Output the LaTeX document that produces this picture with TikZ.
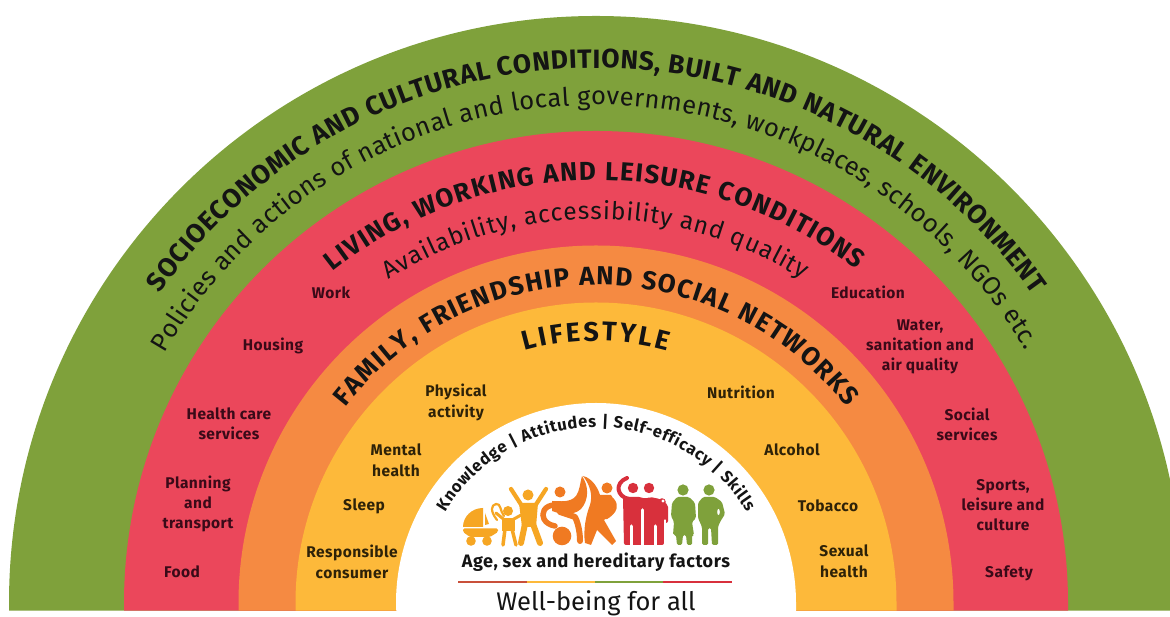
\documentclass[tikz,border=0pt]{standalone}
\usepackage{fontspec}
\setmainfont{Fira Sans}
\usetikzlibrary{decorations.text}
\definecolor{cgreen}{HTML}{7FA13B}
\definecolor{cred}{HTML}{EB475B}
\definecolor{corange}{HTML}{F58A42}
\definecolor{cyellow}{HTML}{FDB93A}
\definecolor{ink}{HTML}{141414}
\definecolor{inkred}{HTML}{3A0A18}
\definecolor{inkyel}{HTML}{2E2208}
\definecolor{ipy}{HTML}{F6A623}
\definecolor{ipo}{HTML}{F07A22}
\definecolor{ipr}{HTML}{D8303C}
\definecolor{ipg}{HTML}{7FA13B}
\definecolor{base1}{HTML}{C9503A}
\newcommand{\band}[2]{\fill[#1] (596-#2,617-610.7) -- (596-#2,14) arc (180:0:#2) -- (596+#2,617-610.7) -- cycle;}
\newcommand{\arctxt}[5]{\path[decorate,decoration={text along path,text align={fit to path},text={|#4|#5}}] (596,14) ++(#2:#1) arc (#2:#3:#1);}
\tikzset{
  redlab/.style={font=\fontsize{15.5}{20}\selectfont\bfseries\addfontfeature{LetterSpace=3},text=inkred,align=center,inner sep=0pt},
  yellab/.style={font=\fontsize{15.5}{21}\selectfont\bfseries\addfontfeature{LetterSpace=3},text=inkyel,align=center,inner sep=0pt},
  limb/.style={line cap=round,line join=round,line width=#1},
  limb/.default=3pt
}
\begin{document}
\begin{tikzpicture}[x=1pt,y=1pt]
\useasboundingbox (0,0) rectangle (1170,617);
\fill[white] (0,0) rectangle (1170,617);
\begin{scope}
\clip (0,0) rectangle (1170,617);
\band{cgreen}{587}
\band{cred}{472}
\band{corange}{357.5}
\band{cyellow}{300.5}
\band{white}{200}
\fill[white] (0,0) rectangle (1170,6.2);
\fill[white] (396.5,5.5) rectangle (795.5,8);
\end{scope}
\arctxt{535}{144.6}{35.2}{\fontsize{26.5}{28}\selectfont\bfseries\color{ink}}{SOCIOECONOMIC AND CULTURAL CONDITIONS, BUILT AND NATURAL ENVIRONMENT}
\arctxt{498}{150}{30.5}{\fontsize{25.5}{26}\selectfont\color{ink}}{Policies and actions of national and local governments, workplaces, schools, NGOs etc.}
\arctxt{423}{128.5}{52}{\fontsize{26}{27}\selectfont\bfseries\color{ink}}{LIVING, WORKING AND LEISURE CONDITIONS}
\arctxt{384}{122.7}{57.5}{\fontsize{24.5}{25}\selectfont\color{ink}}{Availability, accessibility and quality}
\arctxt{318}{142}{38}{\fontsize{26}{27}\selectfont\bfseries\color{ink}}{FAMILY, FRIENDSHIP AND SOCIAL NETWORKS}
\arctxt{262}{105.8}{74.2}{\fontsize{27}{28}\selectfont\bfseries\color{ink}}{LIFESTYLE}
\arctxt{176}{149}{31}{\fontsize{16.5}{17}\selectfont\bfseries\color{ink}}{Knowledge {|} Attitudes {|} Self-efficacy {|} Skills}
\begin{scope}[shift={(0pt,617pt)},y=-1pt]
\node[redlab] (work) at (331,293) {Work};
\node[redlab] (housing) at (273,346) {Housing};
\node[redlab] (health) at (229,424) {Health care\\services};
\node[redlab] (planning) at (198,504) {Planning\\and\\transport};
\node[redlab] (food) at (182,572) {Food};
\node[redlab] (education) at (868,292) {Education};
\node[redlab] (water) at (920,347) {Water,\\sanitation and\\air quality};
\node[redlab] (social) at (967,424) {Social\\services};
\node[redlab] (sports) at (1003,505) {Sports,\\leisure and\\culture};
\node[redlab] (safety) at (1009,573) {Safety};
\node[yellab] (physical) at (456,402) {Physical\\activity};
\node[yellab] (mental) at (396,460) {Mental\\health};
\node[yellab] (sleep) at (364,506) {Sleep};
\node[yellab] (consumer) at (352,562) {Responsible\\consumer};
\node[yellab] (nutrition) at (741,392) {Nutrition};
\node[yellab] (alcohol) at (792,450) {Alcohol};
\node[yellab] (tobacco) at (828,506) {Tobacco};
\node[yellab] (sexual) at (844,561) {Sexual\\health};
\node[font=\fontsize{18}{20}\selectfont\bfseries\addfontfeature{LetterSpace=3.2},text=ink,inner sep=0pt] (age) at (596,562) {Age, sex and hereditary factors};
\node[font=\fontsize{25.5}{27}\selectfont,text=ink,inner sep=0pt] (well) at (596,603) {Well-being for all};
\draw[base1,line width=1.5pt] (458,582) -- (527,582);
\draw[cyellow,line width=1.5pt] (527,582) -- (595,582);
\draw[ipg,line width=1.5pt] (595,582) -- (663,582);
\draw[ipr,line width=1.5pt] (663,582) -- (732,582);
% pram
\fill[ipy] (463,527) arc (180:270:20 and 19) -- (483,527) -- cycle;
\fill[ipy] (485,513) -- (489,524) -- (485,525) -- cycle;
\fill[ipy,rounded corners=1.5pt] (463,528.5) -- (498,528.5) -- (498,532) -- (490,537) -- (470,537) -- (463,532) -- cycle;
\fill[ipy] (471,541) circle (4.8) (487,541) circle (4.8);
\draw[ipy,limb=2.2pt] (497,520) .. controls (490,511) and (491,505) .. (496,504) .. controls (501,503) and (500,511) .. (504,516);
% child
\fill[ipy] (508,511) circle (5);
\fill[ipy] (502,518) -- (515,518) -- (515,531) -- (502,531) -- cycle;
\draw[ipy,limb=3pt] (504,519.5) -- (496,513);
\draw[ipy,limb=3pt] (513,519.5) -- (523,514);
\draw[ipy,limb=3.5pt] (505,529) -- (503,545);
\draw[ipy,limb=3.5pt] (512,529) -- (516,545);
% adult arms up
\fill[ipy] (528,495) circle (5.5);
\fill[ipy] (519,503) -- (538,503) -- (536,527) -- (522,527) -- cycle;
\draw[ipy,limb=4.2pt] (522,506) -- (511,489);
\draw[ipy,limb=4.2pt] (535,506) -- (546,489);
\draw[ipy,limb=6pt] (525,524) -- (521,543);
\draw[ipy,limb=6pt] (533,524) -- (540,543);
% wheelchair
\fill[ipo] (560,492) circle (5.5);
\fill[ipo] (562,536) circle (9.3);
\draw[ipo,limb=5.5pt] (555,505) .. controls (544,505) and (541,514) .. (544,519) .. controls (546,523) and (550,525) .. (555,526);
\fill[ipo] (552,501) .. controls (560,501) and (570,503) .. (576,496) .. controls (580,490) and (580,483) .. (582,476) .. controls (589,486) and (589,500) .. (581,509) .. controls (577,513) and (570,514) .. (564,515) -- (552,511) -- cycle;
\draw[ipo,limb=6pt] (560,512) -- (575,517) .. controls (579,525) and (580,535) .. (580,541);
% dancer
\fill[ipo] (607,488) circle (5.5);
\fill[ipo] (583,476) .. controls (592,478) and (598,488) .. (600,495) -- (611,495) .. controls (616,500) and (615,508) .. (611,515) -- (604,520) -- (616,541) -- (612,545) -- (597,530) -- (591,545) -- (585,543) .. controls (583,530) and (586,515) .. (590,505) .. controls (593,495) and (590,485) .. (583,476) -- cycle;
\draw[ipo,limb=3pt] (612,499) .. controls (618,505) and (616,512) .. (606,518);
% red pair
\fill[ipr] (633,488) circle (5.2) (649,488) circle (5.2);
\draw[ipr,limb=4pt] (629,499) .. controls (617,497) and (614,483) .. (627,478);
\fill[ipr,rounded corners=2pt] (623,497) -- (641,497) -- (645,499) -- (650,497) -- (660,499) -- (668,505) -- (668,523) -- (664,523) -- (664,545) -- (645,545) -- (640,545) -- (624,545) -- cycle;
\draw[white,limb=3pt] (631.5,526) -- (631.5,549);
\draw[white,limb=3.5pt] (642.5,510) -- (642.5,549);
\draw[white,limb=3pt] (655,526) -- (655,549);
\draw[white,limb=1.3pt] (665,520) -- (665,549);
\fill[ipr] (662,502) circle (3.8);
\fill[white] (663,501) circle (1.7);
% green pair
\fill[ipg] (683,490) circle (5.6) (709,490) circle (5.6);
\fill[ipg,rounded corners=1.5pt] (677,497) -- (689,497) -- (695,503) -- (696,518) -- (692,522) -- (694,535) -- (692,535) -- (692,545) -- (687,545) -- (686,535) -- (683,535) -- (682,545) -- (677,545) -- (676,535) -- (673,535) -- (674,522) -- (671,516) -- (672,503) -- cycle;
\fill[ipg,rounded corners=1.5pt] (703,497) -- (715,497) -- (722,502) -- (725,514) -- (720,522) -- (718,527) -- (718,545) -- (712,545) -- (711,528) -- (708,528) -- (708,545) -- (702,545) -- (702,527) -- (698,518) -- (698,503) -- cycle;
\fill[white] (718.5,512) ellipse (1.3 and 3);
\end{scope}
\end{tikzpicture}
\end{document}
